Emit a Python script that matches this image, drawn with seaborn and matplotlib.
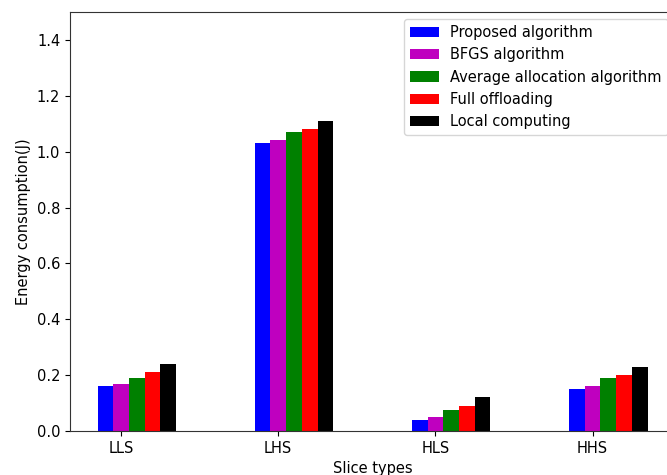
import numpy as np
import pandas as pd
import matplotlib
matplotlib.use("Agg")
import matplotlib.pyplot as plt
import seaborn as sns

# Energy consumption per slice type for each scheme
slice_types = ['LLS', 'LHS', 'HLS', 'HHS']
series_names = ['Proposed algorithm', 'BFGS algorithm', 'Average allocation algorithm',
                'Full offloading', 'Local computing']
proposed = [0.16, 1.03, 0.04, 0.15]
bfgs = [0.17, 1.04, 0.05, 0.16]
average_alloc = [0.19, 1.07, 0.075, 0.19]
full_offload = [0.21, 1.08, 0.09, 0.20]
local_comp = [0.24, 1.11, 0.12, 0.23]
colors = ['b', 'm', 'g', 'r', 'k']

series = [proposed, bfgs, average_alloc, full_offload, local_comp]
x = np.arange(len(slice_types))
width = 0.1

# long table: each bar sits at group index + offset
rows = []
for i, (name, vals) in enumerate(zip(series_names, series)):
    for j, v in enumerate(vals):
        rows.append({'pos': round(x[j] + i * width, 2), 'energy': v, 'scheme': name})
df = pd.DataFrame(rows)

plt.rcParams['font.size'] = 10.5
plt.rcParams['axes.edgecolor'] = '#333333'

fig = plt.figure(figsize=(6.67, 4.75), dpi=100)
ax = fig.add_axes([70 / 667, 44 / 475, 605 / 667, 419 / 475])

sns.barplot(data=df, x='pos', y='energy', hue='scheme', hue_order=series_names,
            palette=colors, native_scale=True, dodge=False, width=1.0,
            saturation=1, errorbar=None, ax=ax)

ax.set_xticks(x + width)
ax.set_xticklabels(slice_types)
ax.set_xlim(-0.225, 3.625)
ax.set_ylim(0, 1.5)
ax.set_yticks(np.arange(0, 1.41, 0.2))
ax.set_xlabel('Slice types')
ax.set_ylabel('Energy consumption(J)')
ax.legend(loc='upper right')

fig.savefig('out.png', dpi=100)
